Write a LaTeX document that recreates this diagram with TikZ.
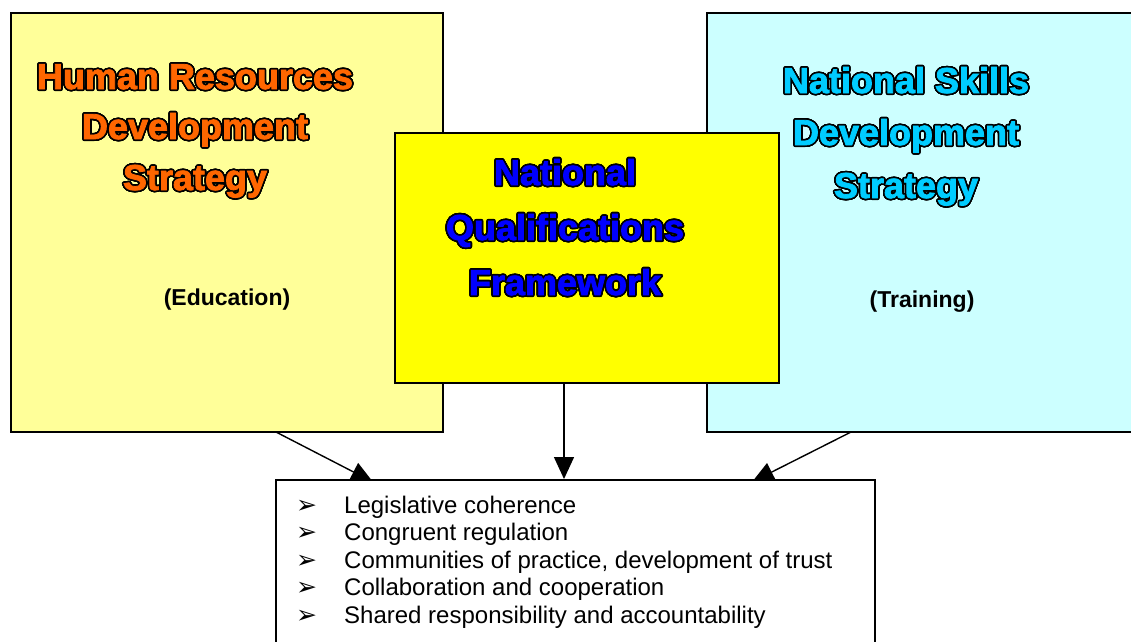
\documentclass[tikz,border=0pt]{standalone}
\usepackage{fontspec}
\setmainfont{Liberation Sans}
\newfontfamily\heavy{Liberation Sans}[BoldFeatures={FakeBold=2.2}]
\newfontfamily\dejavu{DejaVu Sans}
\usepackage{contour}
\contourlength{1.6pt}
\contournumber{32}
\usetikzlibrary{arrows.meta}
\definecolor{hrfill}{HTML}{FFFF99}
\definecolor{nsfill}{HTML}{CCFFFF}
\definecolor{nqfill}{HTML}{FFFF00}
\definecolor{hrtext}{HTML}{FF6600}
\definecolor{nqtext}{HTML}{0000FF}
\definecolor{nstext}{HTML}{00CCFF}
\newcommand{\ttl}[2]{\contour{black}{\textcolor{#1}{#2}}}
\newcommand{\bul}{\makebox[48pt][l]{\dejavu\bfseries\fontsize{25}{26}\selectfont ➢}}
\tikzset{
  box/.style={draw=black, line width=1.6pt},
  titletext/.style={font=\heavy\bfseries\fontsize{36}{52}\selectfont, align=center, inner sep=0pt},
  subtext/.style={font=\bfseries\fontsize{23}{26}\selectfont, inner sep=0pt},
  conn/.style={line width=1.4pt, -{Triangle[length=22pt,width=20pt]}}
}
\begin{document}
\begin{tikzpicture}[x=1pt,y=-1pt]
\useasboundingbox (0,0) rectangle (1131,641);
% side boxes
\path[box, fill=hrfill] (11,13) rectangle (443,432);
\node[inner sep=0pt] (hr) at (227,222.5) {};
\path[box, fill=nsfill] (707,13) rectangle (1145,432);
\node[inner sep=0pt] (ns) at (926,222.5) {};
% center box
\path[box, fill=nqfill] (395,133) rectangle (779,383);
\node[inner sep=0pt] (nq) at (587,258) {};
% titles (anchor base = last line baseline)
\node[titletext, anchor=base] (hrt) at (195,190) {\ttl{hrtext}{Human Resources}\\[-2pt]\ttl{hrtext}{Development}\\[-1pt]\ttl{hrtext}{Strategy}};
\node[titletext, anchor=base] (nqt) at (565,295) {\ttl{nqtext}{National}\\[3pt]\ttl{nqtext}{Qualifications}\\[3pt]\ttl{nqtext}{Framework}};
\node[titletext, anchor=base] (nst) at (906,198) {\ttl{nstext}{National Skills}\\[0pt]\ttl{nstext}{Development}\\[1pt]\ttl{nstext}{Strategy}};
\node[subtext] (edu) at (227,300) {(Education)};
\node[subtext] (trn) at (922,302) {(Training)};
% connector ends
\coordinate (s1) at (276,432);
\coordinate (s2) at (564,383);
\coordinate (s3) at (851,432);
\coordinate (e1) at (373,482);
\coordinate (e2) at (564,479);
\coordinate (e3) at (752,482);
\draw[conn] (s1) -- (e1);
\draw[conn] (s2) -- (e2);
\draw[conn] (s3) -- (e3);
% bottom box
\path[box, fill=white] (276,480) rectangle (875,660);
\node[inner sep=0pt] (out) at (575.5,560) {};
\node[anchor=base west, align=left, inner sep=0pt, font=\fontsize{24}{27.5}\selectfont] (list) at (296,623)
 {\bul Legislative coherence\\
  \bul Congruent regulation\\
  \bul Communities of practice, development of trust\\
  \bul Collaboration and cooperation\\
  \bul Shared responsibility and accountability};
\end{tikzpicture}
\end{document}
